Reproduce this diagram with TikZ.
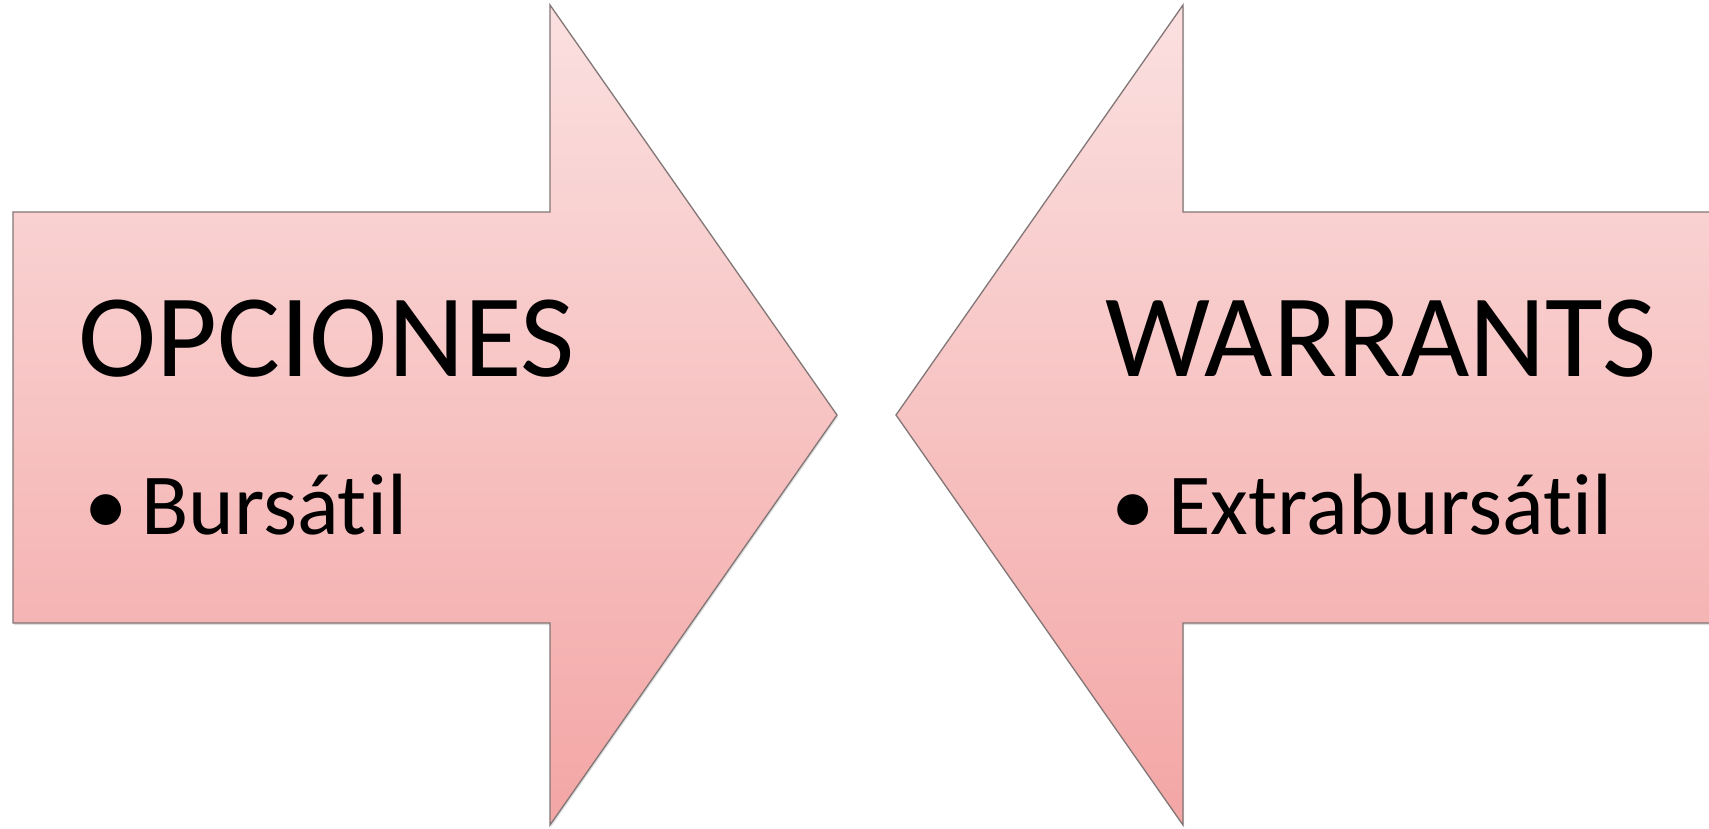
\documentclass[tikz,border=0pt]{standalone}
\usepackage{fontspec}
\setmainfont[Ligatures=NoCommon]{Carlito}
\usepackage{xcolor}
\usepackage{tikz}
\usetikzlibrary{shadows}
\definecolor{pinktop}{RGB}{251,224,224}
\definecolor{pinkbottom}{RGB}{243,166,165}
\definecolor{edgegray}{RGB}{130,118,118}

\begin{document}
\begin{tikzpicture}[x=1pt, y=-1pt,
    bigarrow/.style={draw=edgegray, line width=1.3pt, top color=pinktop,
                bottom color=pinkbottom,
                drop shadow={opacity=0.25, shadow xshift=1pt, shadow yshift=-2pt}},
    title/.style={anchor=base west, inner sep=0pt, font=\fontsize{118}{130}\selectfont},
    item/.style={anchor=base west, inner sep=0pt, font=\fontsize{87}{96}\selectfont}]

\clip (0,0) rectangle (1709,829);
\fill[white] (0,0) rectangle (1709,829);

% left arrow
\draw[bigarrow] (13,212) -- (550,212) -- (550,5) -- (837,415) -- (550,825)
    -- (550,623) -- (13,623) -- cycle;
% right arrow
\draw[bigarrow] (1730,212) -- (1183,212) -- (1183,5) -- (896,415) -- (1183,825)
    -- (1183,623) -- (1730,623) -- cycle;

\node[title] (opciones) at (78,376) {OPCIONES};
\node[item] (bursatil) at (84,534) {\makebox[57pt][l]{\textbullet}Bursátil};

\node[title] (warrants) at (1105,376) {WARRANTS};
\node[item] (extrabursatil) at (1111,534) {\makebox[57pt][l]{\textbullet}Extrabursátil};

\end{tikzpicture}
\end{document}
